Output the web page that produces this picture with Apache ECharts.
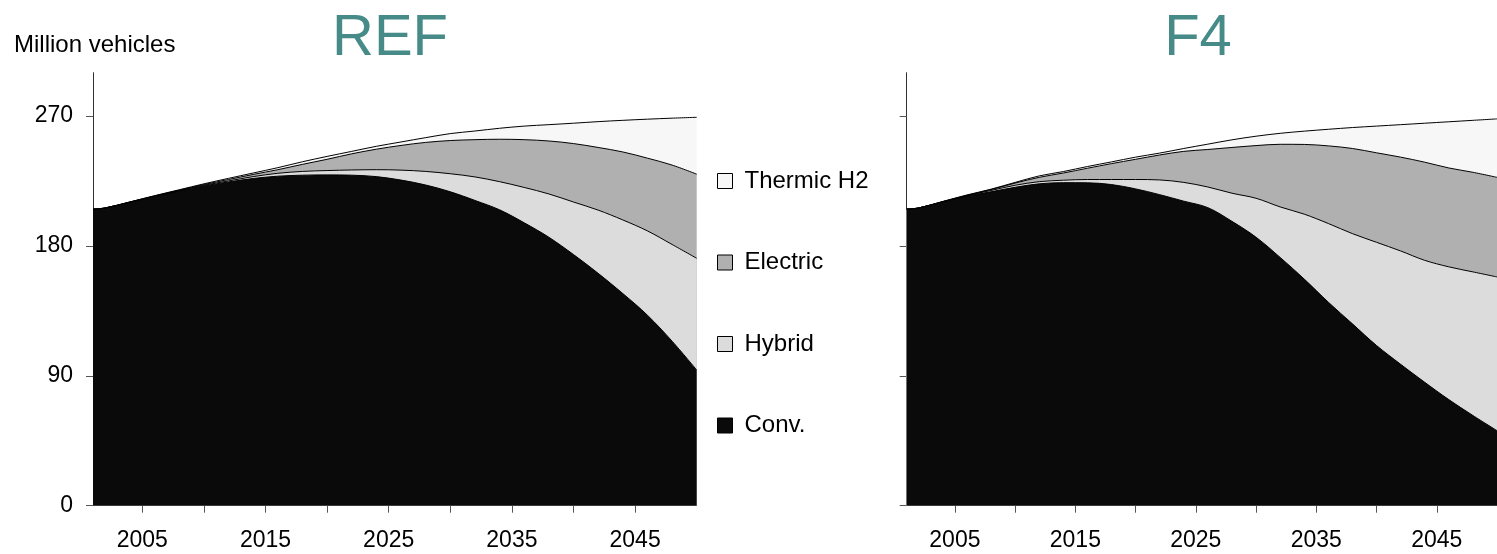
<!DOCTYPE html>
<html>
<head>
<meta charset="utf-8">
<script src="https://cdn.jsdelivr.net/npm/echarts@6/dist/echarts.min.js"></script>
<style>
  html, body { margin: 0; padding: 0; background: #ffffff; }
  #chart { width: 1497px; height: 554px; }
</style>
</head>
<body>
<div id="chart"></div>
<script>
// ---- data (million vehicles) ----
var years = [2001, 2002, 2004, 2006, 2008, 2010, 2012, 2014, 2016, 2018, 2020, 2022, 2024,
             2026, 2028, 2030, 2032, 2034, 2036, 2038, 2040, 2042, 2044, 2046, 2048, 2050];

var seriesNames = ['Conv.', 'Hybrid', 'Electric', 'Thermic H2'];
var legendOrder = ['Thermic H2', 'Electric', 'Hybrid', 'Conv.'];
var panelTitles = ['REF', 'F4'];

// REF scenario
var refConv     = [205.5, 206.3, 210.3, 214.3, 218.0, 221.5, 224.3, 226.7, 228.3, 229.0, 229.2, 229.0, 228.0,
                   225.6, 222.2, 217.5, 211.5, 205.0, 196.0, 186.0, 174.0, 161.0, 147.0, 132.0, 114.0, 94.0];
var refHybrid   = [0, 0, 0, 0.1, 0.3, 0.5, 0.7, 1.3, 2.0, 2.6, 3.0, 3.6, 4.8,
                   6.9, 9.4, 12.5, 16.3, 19.5, 24.5, 30.0, 36.4, 43.8, 51.0, 58.4, 67.0, 77.4];
var refElectric = [0, 0, 0.1, 0.2, 0.3, 0.5, 1.0, 1.5, 2.5, 4.9, 7.8, 11.2, 14.2,
                   17.1, 20.1, 23.0, 25.8, 29.4, 33.1, 36.7, 40.5, 43.4, 47.1, 50.4, 55.0, 58.3];
var refH2       = [0, 0, 0.1, 0.2, 0.3, 0.5, 0.8, 1.0, 1.4, 1.8, 2.0, 1.7, 2.0,
                   2.4, 3.3, 4.8, 6.0, 7.6, 9.4, 11.3, 14.1, 17.9, 21.9, 27.0, 32.5, 39.4];

// F4 scenario
var f4Conv      = [205.5, 206.3, 210.5, 214.5, 217.5, 220.6, 223.0, 223.8, 223.7, 222.5, 219.5, 215.5, 211.0,
                   206.5, 197.0, 186.0, 172.0, 157.0, 141.0, 126.0, 111.0, 98.0, 85.5, 73.5, 62.5, 52.0];
var f4Hybrid    = [0, 0, 0.1, 0.3, 0.9, 1.4, 1.5, 1.7, 2.3, 3.5, 6.5, 10.2, 13.0,
                   14.3, 19.5, 27.0, 35.0, 45.0, 54.5, 62.5, 71.5, 78.5, 84.5, 92.0, 99.5, 106.5];
var f4Electric  = [0, 0, 0.1, 0.2, 0.6, 1.5, 3.0, 5.0, 7.8, 11.0, 14.0, 17.3, 21.5,
                   26.0, 31.7, 36.5, 43.4, 48.3, 53.8, 59.0, 62.0, 65.0, 68.0, 68.5, 69.0, 69.0];
var f4H2        = [0, 0, 0.1, 0.3, 0.3, 0.5, 1.0, 1.0, 1.2, 1.2, 1.5, 1.3, 2.0,
                   3.7, 5.3, 6.5, 7.6, 9.2, 11.5, 14.5, 18.5, 22.5, 27.0, 32.0, 36.0, 40.5];

var xLabelYears = [2005, 2015, 2025, 2035, 2045];
var xTickYears  = [2005, 2010, 2015, 2020, 2025, 2030, 2035, 2040, 2045];
var yTickValues = [0, 90, 180, 270];
var unitLabel = 'Million vehicles';

// ---- styling ----
var FONT = '"Liberation Sans", Arial, Helvetica, sans-serif';
var fills = { 'Conv.': '#0a0a0a', 'Hybrid': '#dcdcdc', 'Electric': '#b0b0b0', 'Thermic H2': '#f7f7f7' };

// stacked (cumulative) tops, so each band is drawn as an opaque area from 0, top band first
function stackedPairs(list, upto) {
  return years.map(function (y, i) {
    var s = 0;
    for (var k = 0; k <= upto; k++) s += list[k][i];
    return [y, Math.round(s * 100) / 100];
  });
}

function xAxisFor(gridIndex) {
  return {
    type: 'value', gridIndex: gridIndex, min: 2001, max: 2050,
    axisLine: { show: true, lineStyle: { color: '#666', width: 1 } },
    axisTick: { show: true, length: 7, customValues: xTickYears, lineStyle: { color: '#555', width: 1 } },
    axisLabel: { show: true, customValues: xLabelYears, margin: 23, color: '#000', fontSize: 23, fontFamily: FONT,
                 formatter: function (v) { return String(v); } },
    splitLine: { show: false }
  };
}
function yAxisFor(gridIndex, showLabels) {
  return {
    type: 'value', gridIndex: gridIndex, min: 0, max: 300,
    axisLine: { show: true, lineStyle: { color: '#333', width: 1 } },
    axisTick: { show: true, length: 7, customValues: yTickValues, lineStyle: { color: '#555', width: 1 } },
    axisLabel: { show: showLabels, customValues: yTickValues, margin: 20, color: '#000', fontSize: 23, fontFamily: FONT },
    splitLine: { show: false }
  };
}

function panelSeries(list, idx) {
  var out = [];
  for (var k = list.length - 1; k >= 0; k--) {
    var name = seriesNames[k];
    out.push({
      name: name, type: 'line',
      xAxisIndex: idx, yAxisIndex: idx,
      data: stackedPairs(list, k),
      smooth: 0.35,
      showSymbol: false, symbol: 'none',
      color: fills[name],
      itemStyle: { color: fills[name], borderColor: '#000', borderWidth: 1 },
      lineStyle: { color: '#000', width: 1 },
      areaStyle: { color: fills[name], opacity: 1 },
      emphasis: { disabled: true },
      z: 2
    });
  }
  return out;
}

var chart = echarts.init(document.getElementById('chart'), null, { renderer: 'canvas' });

var option = {
  animation: false,
  backgroundColor: '#ffffff',
  textStyle: { fontFamily: FONT },
  grid: [
    { left: 93, top: 72.7, width: 603.7, bottom: 48.3, containLabel: false },
    { left: 906.7, top: 72.7, width: 603.7, bottom: 48.3, containLabel: false }
  ],
  xAxis: [xAxisFor(0), xAxisFor(1)],
  yAxis: [yAxisFor(0, true), yAxisFor(1, false)],
  legend: {
    data: legendOrder,
    orient: 'vertical',
    left: 712, top: 164,
    itemWidth: 15, itemHeight: 15, itemGap: 57.5,
    icon: 'rect',
    itemStyle: { borderColor: '#000', borderWidth: 1 },
    textStyle: { fontSize: 24, color: '#000', fontFamily: FONT, padding: [0, 0, 0, 7] },
    selectedMode: false
  },
  graphic: [
    { type: 'text', left: 14, top: 33, style: { text: unitLabel, fontSize: 24, fill: '#000', fontFamily: FONT } },
    { type: 'text', x: 390, y: 39, style: { text: panelTitles[0], fontSize: 58, fill: '#468b87', fontFamily: FONT, align: 'center', verticalAlign: 'middle' } },
    { type: 'text', x: 1198, y: 39, style: { text: panelTitles[1], fontSize: 58, fill: '#468b87', fontFamily: FONT, align: 'center', verticalAlign: 'middle' } }
  ],
  series: [].concat(
    panelSeries([refConv, refHybrid, refElectric, refH2], 0),
    panelSeries([f4Conv, f4Hybrid, f4Electric, f4H2], 1)
  )
};
chart.setOption(option);
</script>
</body>
</html>
